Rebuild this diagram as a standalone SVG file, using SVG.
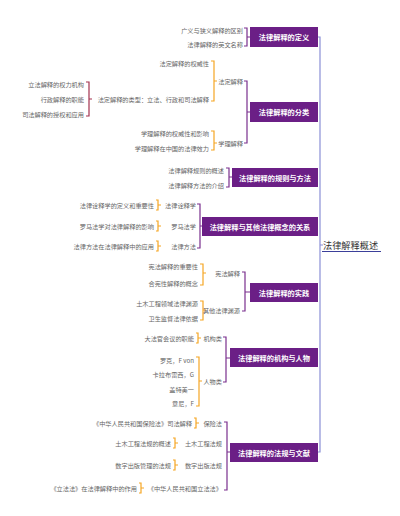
<svg xmlns="http://www.w3.org/2000/svg" width="400" height="516" viewBox="0 0 400 516">
<style>
.t{font-family:"Noto Sans CJK SC","Liberation Sans",sans-serif;font-size:6.2px;fill:#666;text-anchor:end;dominant-baseline:central}
.b{font-family:"Noto Sans CJK SC","Liberation Sans",sans-serif;font-size:7.2px;font-weight:bold;fill:#fff;text-anchor:middle;dominant-baseline:central}
.box{fill:#6b1f86}
.p{fill:none;stroke:#7a2f8e;stroke-width:1.2}
.o{fill:none;stroke:#f5a623;stroke-width:1.2}
.r{fill:none;stroke:#a3314f;stroke-width:1.2}
.m{fill:none;stroke:#8a8fd6;stroke-width:1.2}
</style>
<rect width="400" height="516" fill="#fff"/>
<g id="connectors">
<path class="m" d="M318 37 H320 V452 H318 M320 245 H323"/>
<line x1="322" y1="251.5" x2="381" y2="251.5" stroke="#3b3f9a" stroke-width="1"/>
<path class="p" d="M244 28 H247 V46 H244 M247 37 H250"/>
<path class="p" d="M244 81 H247 V143 H244 M247 112 H250"/>
<path class="o" d="M211 61 H214 V101 H211 M214 81 H217"/>
<path class="r" d="M86 82 H89 V116 H86 M89 99 H92"/>
<path class="o" d="M211 131 H214 V150 H211 M214 143 H217"/>
<path class="p" d="M226 168 H229 V187 H226 M229 177 H232"/>
<path class="p" d="M197 204 H200 V248 H197 M200 226 H202"/>
<path class="o" d="M156 200 H158 V210 H156 M158 205 H161"/>
<path class="o" d="M156 221 H158 V231 H156 M158 226 H161"/>
<path class="o" d="M156 241 H158 V251 H156 M158 246 H161"/>
<path class="p" d="M242 272 H245 V311 H242 M245 292 H250"/>
<path class="o" d="M200 264 H203 V285 H200 M203 273 H206"/>
<path class="o" d="M200 301 H203 V320 H200 M203 310 H206"/>
<path class="p" d="M223 337 H226 V382 H223 M226 358 H230"/>
<path class="o" d="M196 333 H198 V343 H196 M198 338 H201"/>
<path class="o" d="M196 357 H199 V406 H196 M199 381 H202"/>
<path class="p" d="M224 422 H227 V490 H224 M227 452 H230"/>
<path class="o" d="M194 418 H196 V428 H194 M196 423 H199"/>
<path class="o" d="M173 438 H175 V448 H173 M175 443 H178"/>
<path class="o" d="M173 460 H175 V470 H173 M175 465 H178"/>
<path class="o" d="M139 483 H141 V493 H139 M141 488 H144"/>
</g>
<g id="root"><text x="323" y="245" style="font-family:'Noto Sans CJK SC',sans-serif;font-size:9.2px;fill:#333;dominant-baseline:central">法律解释概述</text></g>
<g id="n1"><rect class="box" x="250" y="27" width="68" height="20"/><text class="b" x="284" y="37">法律解释的定义</text></g>
<g id="n1a"><text class="t" x="243" y="30">广义与狭义解释的区别</text></g>
<g id="n1b"><text class="t" x="243" y="44">法律解释的英文名称</text></g>
<g id="n2"><rect class="box" x="250" y="102" width="68" height="20"/><text class="b" x="284" y="112">法律解释的分类</text></g>
<g id="n2a"><text class="t" x="243" y="81">法定解释</text></g>
<g id="n2a1"><text class="t" x="209" y="63">法定解释的权威性</text></g>
<g id="n2a2"><text class="t" x="209" y="99">法定解释的类型：立法、行政和司法解释</text></g>
<g id="n2a2a"><text class="t" x="84" y="84">立法解释的权力机构</text></g>
<g id="n2a2b"><text class="t" x="84" y="99">行政解释的职能</text></g>
<g id="n2a2c"><text class="t" x="84" y="114">司法解释的授权和应用</text></g>
<g id="n2b"><text class="t" x="243" y="143">学理解释</text></g>
<g id="n2b1"><text class="t" x="209" y="133">学理解释的权威性和影响</text></g>
<g id="n2b2"><text class="t" x="209" y="148">学理解释在中国的法律效力</text></g>
<g id="n3"><rect class="box" x="232" y="168" width="86" height="19"/><text class="b" x="275" y="177.5">法律解释的规则与方法</text></g>
<g id="n3a"><text class="t" x="224" y="170">法律解释规则的概述</text></g>
<g id="n3b"><text class="t" x="224" y="185">法律解释方法的介绍</text></g>
<g id="n4"><rect class="box" x="202" y="217" width="116" height="19"/><text class="b" x="260" y="226.5">法律解释与其他法律概念的关系</text></g>
<g id="n4a"><text class="t" x="196" y="205">法律诠释学</text><text class="t" x="154" y="205">法律诠释学的定义和重要性</text></g>
<g id="n4b"><text class="t" x="196" y="226">罗马法学</text><text class="t" x="154" y="226">罗马法学对法律解释的影响</text></g>
<g id="n4c"><text class="t" x="196" y="246">法律方法</text><text class="t" x="154" y="246">法律方法在法律解释中的应用</text></g>
<g id="n5"><rect class="box" x="250" y="283" width="68" height="19"/><text class="b" x="284" y="292.5">法律解释的实践</text></g>
<g id="n5a"><text class="t" x="240" y="273">宪法解释</text><text class="t" x="198" y="266">宪法解释的重要性</text><text class="t" x="198" y="283">合宪性解释的概念</text></g>
<g id="n5b"><text class="t" x="240" y="310">其他法律渊源</text><text class="t" x="198" y="303">土木工程领域法律渊源</text><text class="t" x="198" y="318">卫生监督法律依据</text></g>
<g id="n6"><rect class="box" x="230" y="348" width="88" height="19"/><text class="b" x="274" y="357.5">法律解释的机构与人物</text></g>
<g id="n6a"><text class="t" x="222" y="338">机构类</text><text class="t" x="194" y="338">大法官会议的职能</text></g>
<g id="n6b"><text class="t" x="222" y="381">人物类</text><text class="t" x="194" y="360">罗克，F von</text><text class="t" x="194" y="374">卡拉布雷西，G</text><text class="t" x="194" y="389">盖特美一</text><text class="t" x="194" y="403">意尼，F</text></g>
<g id="n7"><rect class="box" x="230" y="443" width="88" height="19"/><text class="b" x="274" y="452.5">法律解释的法规与文献</text></g>
<g id="n7a"><text class="t" x="222" y="423">保险法</text><text class="t" x="192" y="423">《中华人民共和国保险法》司法解释</text></g>
<g id="n7b"><text class="t" x="222" y="443">土木工程法规</text><text class="t" x="171" y="443">土木工程法规的概述</text></g>
<g id="n7c"><text class="t" x="222" y="465">数字出版法规</text><text class="t" x="171" y="465">数字出版管理的法规</text></g>
<g id="n7d"><text class="t" x="222" y="488">《中华人民共和国立法法》</text><text class="t" x="137" y="488">《立法法》在法律解释中的作用</text></g>
</svg>
